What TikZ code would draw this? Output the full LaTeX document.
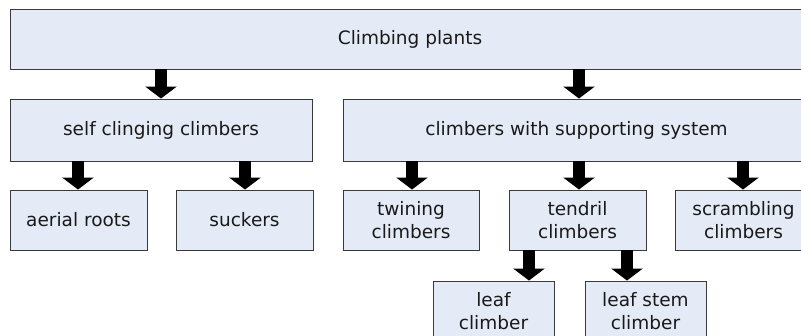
\documentclass[tikz,border=0pt]{standalone}
\usepackage{fontspec}
\setmainfont{DejaVu Sans}
\usetikzlibrary{arrows.meta}
\definecolor{boxfill}{HTML}{E5EBF6}
\definecolor{boxline}{HTML}{3A3A3A}
\tikzset{
  box/.style={draw=boxline, fill=boxfill, line width=0.9pt, inner sep=0pt,
    align=center, font=\fontsize{18.5}{23}\selectfont, text=black!90},
  bigarrow/.style={line width=12pt, -{Triangle[width=31pt,length=12pt]}, black}
}
\begin{document}
\begin{tikzpicture}[x=1pt,y=-1pt]
\useasboundingbox (0,0) rectangle (801,336);
\clip (0,0) rectangle (801,336);
\node[box, minimum width=800pt, minimum height=60pt] (top) at (410,39) {Climbing plants};
\node[box, minimum width=302pt, minimum height=62pt] (self) at (161,130) {self clinging climbers};
\node[box, minimum width=467pt, minimum height=62pt] (supp) at (576.5,130) {climbers with supporting system};
\node[box, minimum width=137pt, minimum height=60pt] (aerial) at (78.5,220) {aerial roots};
\node[box, minimum width=137pt, minimum height=60pt] (suckers) at (244.5,220) {suckers};
\node[box, minimum width=136pt, minimum height=60pt] (twining) at (411,220) {twining\\climbers};
\node[box, minimum width=137pt, minimum height=60pt] (tendril) at (577.5,220) {tendril\\climbers};
\node[box, minimum width=137pt, minimum height=60pt] (scramb) at (743.5,220) {scrambling\\climbers};
\node[box, minimum width=121pt, minimum height=60pt] (leaf) at (493.5,311) {leaf\\climber};
\node[box, minimum width=121pt, minimum height=60pt] (leafstem) at (645.5,311) {leaf stem\\climber};
\draw[bigarrow] (161,0 |- top.south) -- (161,0 |- self.north);
\draw[bigarrow] (579,0 |- top.south) -- (579,0 |- supp.north);
\draw[bigarrow] (78,0 |- self.south) -- (78,0 |- aerial.north);
\draw[bigarrow] (245,0 |- self.south) -- (245,0 |- suckers.north);
\draw[bigarrow] (412,0 |- supp.south) -- (412,0 |- twining.north);
\draw[bigarrow] (579,0 |- supp.south) -- (579,0 |- tendril.north);
\draw[bigarrow] (743,0 |- supp.south) -- (743,0 |- scramb.north);
\draw[bigarrow] (529,0 |- tendril.south) -- (529,0 |- leaf.north);
\draw[bigarrow] (627,0 |- tendril.south) -- (627,0 |- leafstem.north);
\end{tikzpicture}
\end{document}
